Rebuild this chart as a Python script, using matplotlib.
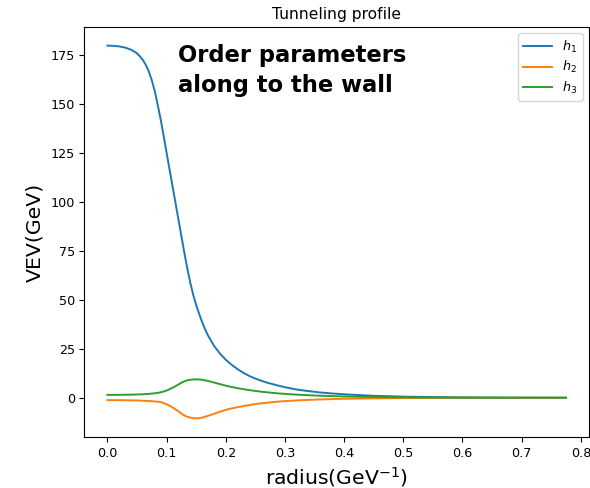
import matplotlib.pyplot as plt

# radius grid (GeV^-1) and field profiles (GeV)
radius = [0.00, 0.01, 0.02, 0.03, 0.04, 0.05, 0.055, 0.06, 0.065, 0.07,
          0.075, 0.08, 0.085, 0.09, 0.095, 0.10, 0.105, 0.11, 0.115, 0.12,
          0.125, 0.13, 0.135, 0.14, 0.145, 0.15, 0.155, 0.16, 0.165, 0.17,
          0.18, 0.19, 0.20, 0.21, 0.22, 0.23, 0.24, 0.25, 0.26, 0.27,
          0.28, 0.29, 0.30, 0.32, 0.34, 0.36, 0.38, 0.40, 0.45, 0.50,
          0.55, 0.60, 0.65, 0.70, 0.775]

h1 = [179.7, 179.6, 179.3, 178.7, 177.6, 175.8, 174.2, 172.3, 169.8, 166.5,
      162.0, 156.5, 149.5, 142.0, 133.7, 125.0, 116.5, 108.0, 99.5, 91.0,
      82.5, 74.0, 66.0, 58.7, 52.5, 47.3, 42.8, 38.7, 35.0, 31.8,
      26.6, 22.6, 19.4, 16.8, 14.6, 12.7, 11.1, 9.8, 8.7, 7.7,
      6.9, 6.1, 5.4, 4.2, 3.4, 2.7, 2.2, 1.8, 1.0, 0.6,
      0.35, 0.2, 0.12, 0.07, 0.03]

h2 = [-1.2, -1.2, -1.2, -1.25, -1.3, -1.35, -1.42, -1.5, -1.57, -1.65,
      -1.75, -1.85, -2.0, -2.2, -2.7, -3.3, -4.05, -4.9, -5.9, -6.9,
      -8.0, -9.0, -9.7, -10.1, -10.4, -10.5, -10.4, -10.1, -9.7, -9.2,
      -8.2, -7.1, -6.2, -5.4, -4.8, -4.2, -3.7, -3.2, -2.8, -2.5,
      -2.2, -1.9, -1.7, -1.35, -1.05, -0.85, -0.65, -0.5, -0.28, -0.15,
      -0.08, -0.05, -0.03, -0.02, -0.01]

h3 = [1.5, 1.5, 1.5, 1.55, 1.6, 1.7, 1.75, 1.8, 1.9, 2.0,
      2.15, 2.3, 2.5, 2.8, 3.2, 3.7, 4.35, 5.1, 5.95, 6.8,
      7.7, 8.4, 8.9, 9.2, 9.35, 9.4, 9.35, 9.2, 8.9, 8.6,
      7.8, 7.0, 6.2, 5.5, 4.9, 4.4, 3.9, 3.5, 3.1, 2.8,
      2.5, 2.2, 2.0, 1.6, 1.3, 1.05, 0.85, 0.7, 0.4, 0.22,
      0.13, 0.07, 0.04, 0.02, 0.01]

fig = plt.figure(figsize=(5.9, 4.88), dpi=100)
ax = fig.add_axes([0.1432, 0.1045, 0.8551, 0.8402])

ax.plot(radius, h1, lw=1.4, label='$h_1$')
ax.plot(radius, h2, lw=1.4, label='$h_2$')
ax.plot(radius, h3, lw=1.4, label='$h_3$')

ax.set_title('Tunneling profile', fontsize=11.2)
ax.set_xlabel('radius(GeV$^{-1}$)', fontsize=14.7)
ax.set_ylabel('VEV(GeV)', fontsize=14.7)
ax.tick_params(labelsize=9.2)
ax.legend(loc='upper right', fontsize=9.2, handlelength=2.3, labelspacing=0.35)

ax.text(0.119, 180.5, 'Order parameters\nalong to the wall', fontsize=16.3,
        fontweight='bold', family='DejaVu Sans', va='top', ha='left',
        linespacing=1.4)

fig.savefig('out.png', dpi=100)
